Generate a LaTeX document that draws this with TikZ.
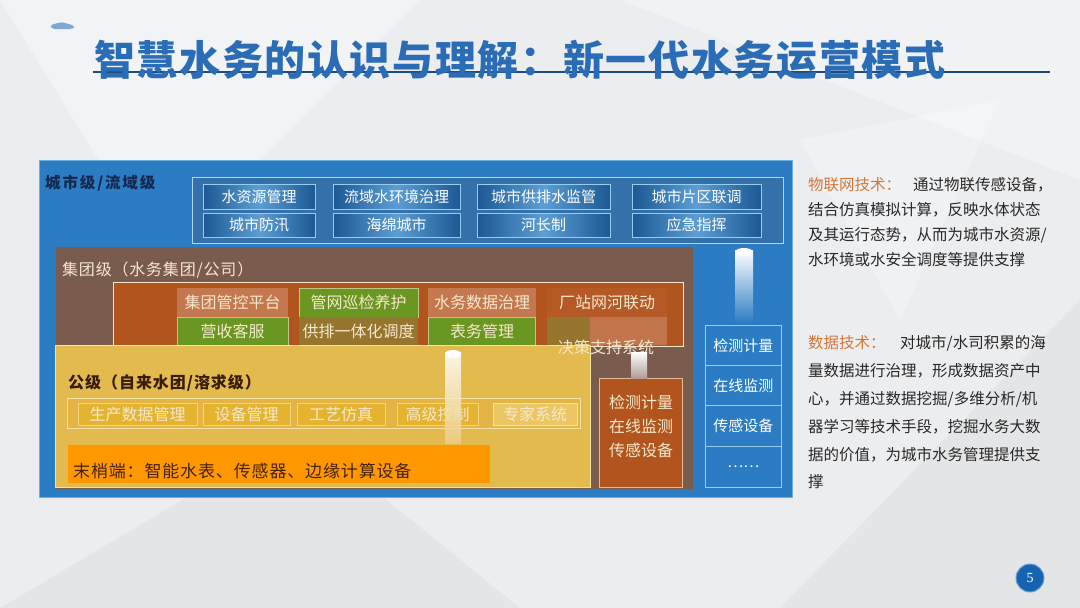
\documentclass[tikz,border=0pt]{standalone}
\usepackage{fontspec}
\setmainfont{Noto Sans CJK SC}
\newfontfamily\cjk{Noto Sans CJK SC}
\newfontfamily\numfont{Liberation Serif}
\newcommand\myfs[1]{\fontsize{#1}{#1}\selectfont}
\newcommand\myls[1]{\addfontfeatures{LetterSpace=#1}}
\definecolor{bg}{RGB}{236,237,239}
\definecolor{titleblue}{RGB}{42,108,182}
\definecolor{cityblue}{RGB}{43,124,194}
\definecolor{citypanel}{RGB}{52,112,170}
\definecolor{cityedge}{RGB}{150,205,238}
\definecolor{btndark}{RGB}{28,88,148}
\definecolor{btnlight}{RGB}{92,158,212}
\definecolor{navy}{RGB}{20,40,80}
\definecolor{grpbrown}{RGB}{122,92,78}
\definecolor{rust}{RGB}{178,84,30}
\definecolor{lightrust}{RGB}{196,120,80}
\definecolor{leaf}{RGB}{106,150,34}
\definecolor{olive}{RGB}{150,118,46}
\definecolor{cream}{RGB}{246,232,205}
\definecolor{sand}{RGB}{226,186,78}
\definecolor{sandedge}{RGB}{247,228,160}
\definecolor{sanditem}{RGB}{228,180,48}
\definecolor{orangebar}{RGB}{255,152,0}
\definecolor{darkbrown}{RGB}{70,35,10}
\definecolor{techorange}{RGB}{210,120,60}
\definecolor{bodytext}{RGB}{40,40,40}
\definecolor{pgblue}{RGB}{22,100,176}
\begin{document}
\begin{tikzpicture}[x=1pt,y=-1pt,
  lbl/.style={inner sep=0pt, anchor=west},
  cbtn/.style={draw=cityedge, line width=0.8pt, left color=btndark, right color=btndark, middle color=btnlight, inner sep=0pt, text=white, font=\myfs{15}},
  gitem/.style={draw=none, inner sep=0pt, text=cream, font=\myfs{16}},
  sitem/.style={draw=sandedge!70!sanditem, line width=0.6pt, fill=sanditem, inner sep=0pt, text=cream, font=\myfs{16}},
  colcell/.style={draw=cityedge, line width=0.6pt, fill=cityblue, inner sep=0pt, text=white, font=\myfs{15}},
  bodyline/.style={inner sep=0pt, anchor=west, text=bodytext, font=\myfs{15.5}},
  upbar/.style={draw=none, top color=white, bottom color=#1}
]
\useasboundingbox (0,0) rectangle (1080,608);
% background
\fill[bg] (0,0) rectangle (1080,608);
\fill[white, opacity=0.35] (0,0) -- (420,0) -- (160,260) -- cycle;
\fill[white, opacity=0.3] (620,0) -- (1080,0) -- (1080,180) -- cycle;
\fill[black, opacity=0.03] (0,608) -- (300,430) -- (520,608) -- cycle;
\fill[black, opacity=0.03] (780,608) -- (1080,300) -- (1080,608) -- cycle;
\fill[white, opacity=0.25] (800,140) -- (1000,100) -- (900,320) -- cycle;

% title
\fill[titleblue!60, rounded corners=3pt] (50,25) -- (62,22) -- (75,26) -- (73,29) -- (52,29) -- cycle;
\draw[titleblue!70!black, line width=1.6pt] (93,72) -- (1050,72);
\node[inner sep=0pt, anchor=west, text=titleblue, font=\myfs{41}\bfseries\myls{4}] (title) at (94,60) {智慧水务的认识与理解：新一代水务运营模式};

% city level
\node[draw=cityedge!60!cityblue, line width=1pt, fill=cityblue, minimum width=753pt, minimum height=337pt, inner sep=0pt, anchor=north west] (city) at (39,160) {};
\node[lbl, text=navy, font=\myfs{15.5}\bfseries\myls{12}] (citylbl) at (45,183) {城市级/流域级};
\node[draw=cityedge!80!white, line width=1pt, fill=citypanel, minimum width=591pt, minimum height=66pt, inner sep=0pt, anchor=north west] (cpanel) at (192,177) {};
\node[cbtn, minimum width=112pt, minimum height=25pt] (c1) at (259,197) {水资源管理};
\node[cbtn, minimum width=127pt, minimum height=25pt] (c2) at (396.5,197) {流域水环境治理};
\node[cbtn, minimum width=133pt, minimum height=25pt] (c3) at (543.5,197) {城市供排水监管};
\node[cbtn, minimum width=129pt, minimum height=25pt] (c4) at (696.5,197) {城市片区联调};
\node[cbtn, minimum width=112pt, minimum height=24pt] (c5) at (259,225) {城市防汛};
\node[cbtn, minimum width=127pt, minimum height=24pt] (c6) at (396.5,225) {海绵城市};
\node[cbtn, minimum width=133pt, minimum height=24pt] (c7) at (543.5,225) {河长制};
\node[cbtn, minimum width=129pt, minimum height=24pt] (c8) at (696.5,225) {应急指挥};

% group level
\node[fill=grpbrown, minimum width=637pt, minimum height=242pt, inner sep=0pt, anchor=north west] (grp) at (56,247) {};
\node[lbl, text=cream, font=\myfs{16}\myls{5}] (grplbl) at (62,270) {集团级（水务集团/公司）};
\node[draw=cream, line width=1pt, fill=rust, minimum width=570pt, minimum height=64pt, inner sep=0pt, anchor=north west] (gpanel) at (113,282) {};
\node[gitem, fill=lightrust, minimum width=111pt, minimum height=29pt] (g1) at (232.5,302.5) {集团管控平台};
\node[gitem, fill=leaf, draw=cream!60!leaf, minimum width=111pt, minimum height=28pt] (g2) at (232.5,331) {营收客服};
\node[gitem, fill=leaf, draw=cream!60!leaf, minimum width=119pt, minimum height=29pt] (g3) at (358.5,302.5) {管网巡检养护};
\node[gitem, fill=olive, minimum width=119pt, minimum height=28pt] (g4) at (358.5,331) {供排一体化调度};
\node[gitem, fill=lightrust, minimum width=108pt, minimum height=29pt] (g5) at (482,302.5) {水务数据治理};
\node[gitem, fill=leaf, draw=cream!60!leaf, minimum width=107pt, minimum height=28pt] (g6) at (482,331) {表务管理};
\node[gitem, fill=rust!85!lightrust, minimum width=120pt, minimum height=29pt] (g7) at (607,302.5) {厂站网河联动};
\node[gitem, fill=olive, minimum width=43pt, minimum height=28pt] (g8a) at (568.5,331) {};
\node[gitem, fill=lightrust!90!rust, minimum width=77pt, minimum height=28pt] (g8b) at (628.5,331) {};

% company level
\node[draw=sandedge, line width=1pt, fill=sand, minimum width=535pt, minimum height=142pt, inner sep=0pt, anchor=north west] (comp) at (55,345) {};
\node[lbl, text=darkbrown!80!black, font=\myfs{16}\bfseries\myls{6}] (complbl) at (68,383) {公级（自来水团/溶求级）};
\node[draw=sandedge, line width=1pt, fill=sand!90!orange, minimum width=513pt, minimum height=30pt, inner sep=0pt, anchor=north west] (strip) at (67,398) {};
\node[sitem, minimum width=119pt, minimum height=22pt] (s1) at (137.5,414) {生产数据管理};
\node[sitem, minimum width=87pt, minimum height=22pt] (s2) at (246.5,414) {设备管理};
\node[sitem, minimum width=88pt, minimum height=22pt] (s3) at (341,414) {工艺仿真};
\node[sitem, minimum width=81pt, minimum height=22pt] (s4) at (437.5,414) {高级控制};
\node[sitem, draw=sandedge, fill=sanditem!75!white, minimum width=84pt, minimum height=22pt] (s5) at (535,414) {专家系统};
\node[fill=orangebar, minimum width=422pt, minimum height=38pt, inner sep=0pt, anchor=north west] (bar) at (68,445) {};
\node[lbl, text=darkbrown, font=\myfs{17}\myls{5}] (barlbl) at (73,471) {末梢端：智能水表、传感器、边缘计算设备};

% decision support label (overlaps)
\node[inner sep=0pt, text=cream, font=\myfs{16}] (dss) at (606,347) {决策支持系统};

% brown column
\node[draw=cream!70!rust, line width=0.8pt, fill=rust, minimum width=83pt, minimum height=109pt, inner sep=0pt, anchor=north west] (bcol) at (599,378) {};
\node[inner sep=0pt, text=cream, font=\myfs{16}] (b1) at (641,402) {检测计量};
\node[inner sep=0pt, text=cream, font=\myfs{16}] (b2) at (641,426) {在线监测};
\node[inner sep=0pt, text=cream, font=\myfs{16}] (b3) at (641,450) {传感设备};

% blue column
\node[colcell, minimum width=76pt, minimum height=40pt, anchor=north west] (k1) at (705,325) {检测计量};
\node[colcell, minimum width=76pt, minimum height=40pt, anchor=north west] (k2) at (705,365) {在线监测};
\node[colcell, minimum width=76pt, minimum height=41pt, anchor=north west] (k3) at (705,405) {传感设备};
\node[colcell, minimum width=76pt, minimum height=41pt, anchor=north west] (k4) at (705,446) {……};

% upward bars
\shade[upbar=cityblue] (735,250) rectangle (753,323);
\fill[white] (744,252) ellipse (9pt and 4pt);
\begin{scope}[opacity=0.85]
\shade[upbar=sand!70!white] (445,352) rectangle (461,443);
\end{scope}
\fill[white] (453,354) ellipse (8pt and 4pt);
\shade[upbar=grpbrown!60!white] (631,352) rectangle (647,378);

% right text
\node[inner sep=0pt, anchor=west, text=techorange, font=\myfs{15.5}] (t1) at (808,185) {物联网技术：};
\node[bodyline] (t1b) at (913,185) {通过物联传感设备，};
\node[bodyline] (t2) at (808,210) {结合仿真模拟计算，反映水体状态};
\node[bodyline] (t3) at (808,235) {及其运行态势，从而为城市水资源/};
\node[bodyline] (t4) at (808,260) {水环境或水安全调度等提供支撑};

\node[inner sep=0pt, anchor=west, text=techorange, font=\myfs{15.5}] (d1) at (808,343) {数据技术：};
\node[bodyline] (d1b) at (900,343) {对城市/水司积累的海};
\node[bodyline] (d2) at (808,371) {量数据进行治理，形成数据资产中};
\node[bodyline] (d3) at (808,399) {心，并通过数据挖掘/多维分析/机};
\node[bodyline] (d4) at (808,427) {器学习等技术手段，挖掘水务大数};
\node[bodyline] (d5) at (808,455) {据的价值，为城市水务管理提供支};
\node[bodyline] (d6) at (808,482) {撑};

% page number
\node[circle, fill=pgblue, draw=pgblue!60!white, line width=1pt, minimum size=28pt, inner sep=0pt, text=white, font=\numfont\myfs{14}] (pg) at (1030,578) {5};
\end{tikzpicture}
\end{document}
